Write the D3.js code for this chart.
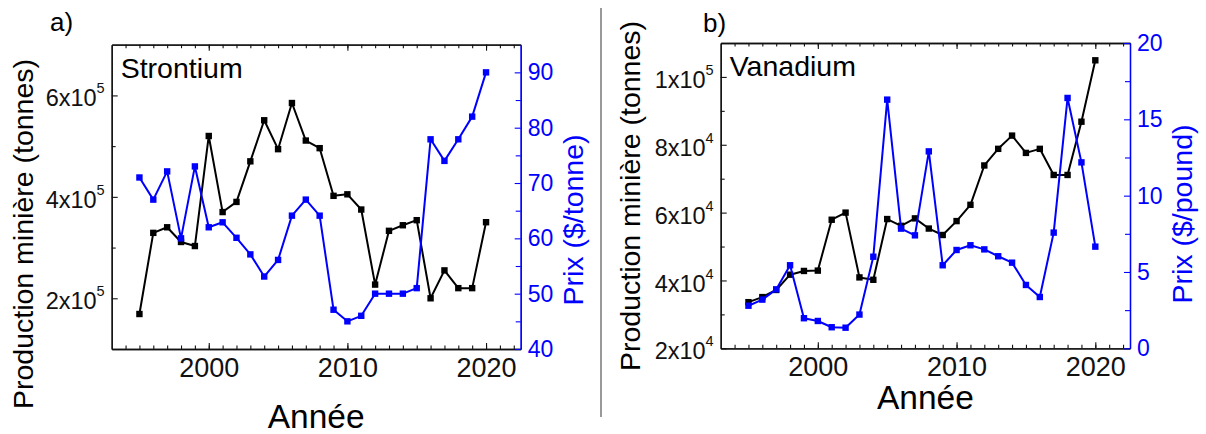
<!DOCTYPE html>
<html>
<head>
<meta charset="utf-8">
<script src="https://cdn.jsdelivr.net/npm/d3@7"></script>
<style>
body { margin: 0; background: #fff; }
svg { display: block; font-family: "Liberation Sans", Arial, sans-serif; }
</style>
</head>
<body>
<div id="chart"></div>
<script>
/*global d3*/

// data
const years = [1995, 1996, 1997, 1998, 1999, 2000, 2001, 2002, 2003, 2004, 2005, 2006, 2007,
    2008, 2009, 2010, 2011, 2012, 2013, 2014, 2015, 2016, 2017, 2018, 2019, 2020];

// a) strontium : tonnes, $/tonne
const strontiumProd = [169e3, 329e3, 340e3, 311e3, 303e3, 520e3, 370e3, 390e3, 470e3, 551e3, 494e3, 585e3, 511e3,
    496e3, 402e3, 405e3, 375e3, 227e3, 333e3, 344e3, 354e3, 200e3, 255e3, 220e3, 220e3, 350e3];
const strontiumPrice = [71.0, 67.0, 72.1, 60.0, 73.0, 62.0, 62.9, 60.1, 57.1, 53.1, 56.1, 64.1, 67.0,
    64.1, 47.1, 45.0, 46.0, 50.0, 50.0, 50.0, 51.0, 77.9, 74.0, 77.9, 82.0, 90.0];

// b) vanadium : tonnes, $/pound
const vanadiumProd = [33.6e3, 35.1e3, 37.2e3, 41.7e3, 42.8e3, 42.9e3, 57.9e3, 60.0e3, 40.9e3, 40.2e3, 58.1e3, 56.1e3, 58.3e3,
    55.3e3, 53.4e3, 57.5e3, 62.3e3, 73.9e3, 78.8e3, 82.7e3, 77.6e3, 78.8e3, 71.1e3, 71.1e3, 86.8e3, 104.9e3];
const vanadiumPrice = [2.79, 3.19, 3.86, 5.44, 1.97, 1.79, 1.38, 1.35, 2.21, 6.0, 16.29, 7.84, 7.40,
    12.9, 5.44, 6.44, 6.75, 6.48, 6.03, 5.61, 4.15, 3.36, 7.58, 16.4, 12.18, 6.66];

// tick labels
const yearTicks = [2000, 2010, 2020];
const strontiumProdTicks = [2e5, 4e5, 6e5];
const strontiumPriceTicks = [40, 50, 60, 70, 80, 90];
const vanadiumProdTicks = [2e4, 4e4, 6e4, 8e4, 1e5];
const vanadiumPriceTicks = [0, 5, 10, 15, 20];

const BLUE = '#0000ff';


class DualPanel {
    constructor(svg, opt) {
        this.svg = svg;
        this.opt = opt;
        this.init();
    }

    init() {
        this.g = this.svg.append('g');
        this.initScale();
        this.drawAxes();
        this.drawSeries(this.opt.prod, this.y0, '#000');
        this.drawSeries(this.opt.price, this.y1, BLUE);
        this.drawTexts();
    }

    initScale() {
        const o = this.opt;
        this.x = d3.scaleLinear().domain([1993, 2022.5]).range([o.left, o.right]);
        this.y0 = d3.scaleLinear().domain(o.prodDomain).range([o.bottom, o.top]);
        this.y1 = d3.scaleLinear().domain(o.priceDomain).range([o.bottom, o.top]);
    }

    // half way between major ticks, inside the domain
    minors(ticks, domain) {
        const step = ticks[1] - ticks[0];
        const out = [];
        for (let v = ticks[0] - step / 2; v < domain[1]; v += step) {
            if (v > domain[0] && v < domain[1]) out.push(v);
        }
        return out;
    }

    styleAxis(sel, color, size) {
        sel.attr('font-family', null).attr('font-size', size);
        sel.select('.domain').attr('stroke', color).attr('stroke-width', 1.3);
        sel.selectAll('.tick line').attr('stroke', color).attr('stroke-width', 1.1);
        sel.selectAll('.tick text').attr('fill', color);
    }

    drawAxes() {
        const o = this.opt;
        const g = this.g;
        const yearMinor = d3.range(1994, 2023);

        // minor ticks first
        g.append('g').attr('transform', `translate(0,${o.bottom})`)
            .call(d3.axisBottom(this.x).tickValues(yearMinor).tickSize(-3.5).tickSizeOuter(0).tickFormat(''))
            .call(s => this.styleAxis(s, '#111', 10));
        g.append('g').attr('transform', `translate(0,${o.top})`)
            .call(d3.axisTop(this.x).tickValues(yearMinor).tickSize(-3.5).tickSizeOuter(0).tickFormat(''))
            .call(s => this.styleAxis(s, '#111', 10));
        g.append('g').attr('transform', `translate(${o.left},0)`)
            .call(d3.axisLeft(this.y0).tickValues(this.minors(o.prodTicks, o.prodDomain)).tickSize(-4).tickSizeOuter(0).tickFormat(''))
            .call(s => this.styleAxis(s, '#111', 10));
        g.append('g').attr('transform', `translate(${o.right},0)`)
            .call(d3.axisRight(this.y1).tickValues(this.minors(o.priceTicks, o.priceDomain)).tickSize(-5).tickSizeOuter(0).tickFormat(''))
            .call(s => this.styleAxis(s, BLUE, 10));

        // bottom
        g.append('g').attr('transform', `translate(0,${o.bottom})`)
            .call(d3.axisBottom(this.x).tickValues(yearTicks).tickSize(-6).tickSizeOuter(0).tickPadding(9).tickFormat(d3.format('d')))
            .call(s => this.styleAxis(s, '#111', 27));
        // top (mirror)
        g.append('g').attr('transform', `translate(0,${o.top})`)
            .call(d3.axisTop(this.x).tickValues(yearTicks).tickSize(-6).tickSizeOuter(0).tickFormat(''))
            .call(s => this.styleAxis(s, '#111', 10));

        // left, production with power-of-ten labels
        const left = g.append('g').attr('transform', `translate(${o.left},0)`)
            .call(d3.axisLeft(this.y0).tickValues(o.prodTicks).tickSize(-6).tickSizeOuter(0).tickPadding(7))
            .call(s => this.styleAxis(s, '#111', 23.5));
        left.selectAll('.tick text').attr('dy', '0.45em').each(function (d) {
            const e = Math.floor(Math.log10(d) + 1e-9);
            const m = Math.round(d / Math.pow(10, e));
            const t = d3.select(this).text(null);
            t.append('tspan').text(`${m}x10`);
            t.append('tspan').attr('dy', -13).attr('font-size', 14.5).text(e);
        });

        // right, price
        g.append('g').attr('transform', `translate(${o.right},0)`)
            .call(d3.axisRight(this.y1).tickValues(o.priceTicks).tickSize(-6).tickSizeOuter(0).tickPadding(7))
            .call(s => this.styleAxis(s, BLUE, 23));
    }

    drawSeries(vals, y, color) {
        const line = d3.line()
            .x((d, i) => this.x(years[i]))
            .y(d => y(d));
        const s = this.g.append('g');
        s.append('path')
            .datum(vals)
            .attr('d', line)
            .attr('fill', 'none')
            .attr('stroke', color)
            .attr('stroke-width', 2)
            .attr('stroke-linejoin', 'round');
        s.selectAll('rect')
            .data(vals)
            .join('rect')
            .attr('x', (d, i) => this.x(years[i]) - 3.2)
            .attr('y', d => y(d) - 3.2)
            .attr('width', 6.4)
            .attr('height', 6.4)
            .attr('fill', color);
    }

    drawTexts() {
        const o = this.opt;
        const g = this.g;
        g.append('text')
            .attr('x', o.left + 9).attr('y', o.top + 33)
            .attr('font-size', 28.5)
            .text(o.name);
        g.append('text')
            .attr('x', o.tag[0]).attr('y', o.tag[1])
            .attr('font-size', 26)
            .text(o.tagText);
        g.append('text')
            .attr('text-anchor', 'middle')
            .attr('transform', `translate(${o.prodTitle[0]},${o.prodTitle[1]}) rotate(-90)`)
            .attr('font-size', 28.5)
            .text('Production minière (tonnes)');
        g.append('text')
            .attr('text-anchor', 'middle')
            .attr('transform', `translate(${o.priceTitle[0]},${o.priceTitle[1]}) rotate(-90)`)
            .attr('font-size', 28.5)
            .attr('fill', BLUE)
            .text(o.priceLabel);
        g.append('text')
            .attr('text-anchor', 'middle')
            .attr('x', (o.left + o.right) / 2).attr('y', o.xTitleY)
            .attr('font-size', 33.5)
            .text('Année');
    }
}


function charts() {
    const W = 1206, H = 434;
    const svg = d3.select('#chart').append('svg').attr('width', W).attr('height', H);

    // separator between the two panels
    svg.append('line')
        .attr('x1', 601).attr('x2', 601).attr('y1', 8).attr('y2', 417)
        .attr('stroke', '#999').attr('stroke-width', 2);

    new DualPanel(svg, {
        left: 111.7, right: 520.7, top: 44.7, bottom: 349,
        prod: strontiumProd, price: strontiumPrice,
        prodDomain: [1e5, 7e5], priceDomain: [40, 95],
        prodTicks: strontiumProdTicks, priceTicks: strontiumPriceTicks,
        name: 'Strontium', tagText: 'a)', tag: [50, 31],
        prodTitle: [33, 234], priceTitle: [583, 220], priceLabel: 'Prix ($/tonne)',
        xTitleY: 428
    });

    new DualPanel(svg, {
        left: 720.7, right: 1130, top: 43, bottom: 348.3,
        prod: vanadiumProd, price: vanadiumPrice,
        prodDomain: [2e4, 1.1e5], priceDomain: [0, 20],
        prodTicks: vanadiumProdTicks, priceTicks: vanadiumPriceTicks,
        name: 'Vanadium', tagText: 'b)', tag: [703, 32],
        prodTitle: [640, 196], priceTitle: [1192, 214], priceLabel: 'Prix ($/pound)',
        xTitleY: 409
    });
}

charts()
</script>
</body>
</html>
